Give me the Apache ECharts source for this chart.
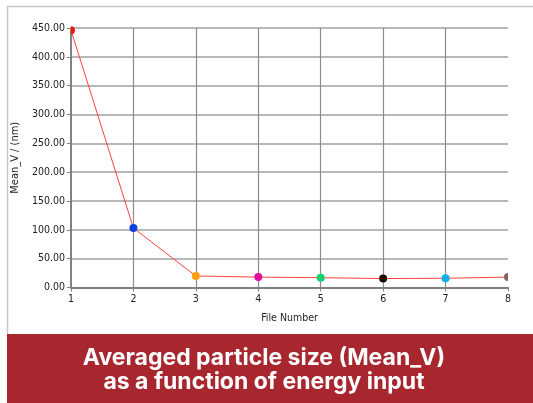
<!DOCTYPE html>
<html><head><meta charset="utf-8">
<script src="https://cdn.jsdelivr.net/npm/echarts@6/dist/echarts.min.js"></script>
<style>html,body{margin:0;padding:0;background:#fff}#c{width:533px;height:403px}</style>
</head><body><div id="c"></div>
<script>
const fileNumbers = [1, 2, 3, 4, 5, 6, 7, 8];
const meanV = [446, 103, 20, 18, 17, 15.5, 16, 18];
const pointColors = ['#ff1010', '#1040e0', '#ffa010', '#e010a0', '#10d070', '#200808', '#10b0e8', '#8a6060'];
const yTicks = [0, 50, 100, 150, 200, 250, 300, 350, 400, 450];
const titleLines = ['Averaged particle size (Mean_V)', 'as a function of energy input'];

const font = '"DejaVu Sans Condensed", "DejaVu Sans", sans-serif';
const chart = echarts.init(document.getElementById('c'), null, {renderer: 'canvas'});

const halfRight = 'path://M0,-10 A10,10 0 0 1 0,10 Z';
const halfLeft = 'path://M0,-10 A10,10 0 0 0 0,10 Z';
const data = fileNumbers.map((x, i) => {
  const item = {value: [x, meanV[i]], itemStyle: {color: pointColors[i], borderWidth: 0}};
  if (i === 0) { item.symbol = halfRight; item.symbolSize = [4, 8]; item.symbolOffset = [2, 0]; }
  if (i === fileNumbers.length - 1) { item.symbol = halfLeft; item.symbolSize = [4, 8]; item.symbolOffset = [-2, 0]; }
  return item;
});

chart.setOption({
  animation: false,
  backgroundColor: '#ffffff',
  grid: {left: 71, right: 25, top: 28, bottom: 115.5, containLabel: false},
  xAxis: {
    type: 'value', min: 1, max: 8, interval: 1,
    name: 'File Number', nameLocation: 'middle', nameGap: 25,
    nameTextStyle: {fontFamily: font, fontSize: 10.5, color: '#222'},
    axisLine: {show: true, lineStyle: {color: '#808080', width: 2}},
    axisTick: {show: true, length: 4, lineStyle: {color: '#808080', width: 1}},
    axisLabel: {fontFamily: font, fontSize: 10.5, color: '#222', margin: 6},
    splitLine: {show: true, showMinLine: false, showMaxLine: false, lineStyle: {color: '#8c8c8c', width: 1.2}}
  },
  yAxis: {
    type: 'value', min: yTicks[0], max: yTicks[yTicks.length - 1], interval: 50,
    name: 'Mean_V / (nm)', nameLocation: 'middle', nameGap: 38, nameRotate: 90,
    nameTextStyle: {fontFamily: font, fontSize: 11, color: '#222'},
    axisLine: {show: true, lineStyle: {color: '#808080', width: 2}},
    axisTick: {show: true, length: 4, lineStyle: {color: '#808080', width: 1}},
    axisLabel: {fontFamily: font, fontSize: 10.5, color: '#222', margin: 6, formatter: v => v.toFixed(2)},
    splitLine: {show: true, lineStyle: {color: '#a0a0a0', width: 1.5}}
  },
  series: [{
    type: 'line', data: data, symbol: 'circle', symbolSize: 8, clip: false,
    lineStyle: {color: '#ff4040', width: 1},
    emphasis: {disabled: true}, z: 5
  }],
  graphic: [
    {type: 'line', shape: {x1: 7, y1: 6.5, x2: 533, y2: 6.5}, style: {stroke: '#c8c8c8', lineWidth: 1.5}, silent: true},
    {type: 'line', shape: {x1: 7.5, y1: 6, x2: 7.5, y2: 334}, style: {stroke: '#c8c8c8', lineWidth: 1.5}, silent: true},
    {type: 'rect', shape: {x: 7, y: 334, width: 526, height: 69}, style: {fill: '#a8262e'}, silent: true},
    {type: 'text', x: 264, y: 370, style: {
      text: titleLines.join('\n'), fill: '#ffffff', font: '700 23px Inter, Roboto, sans-serif',
      align: 'center', verticalAlign: 'middle', lineHeight: 23.5
    }, silent: true}
  ]
});
</script></body></html>
